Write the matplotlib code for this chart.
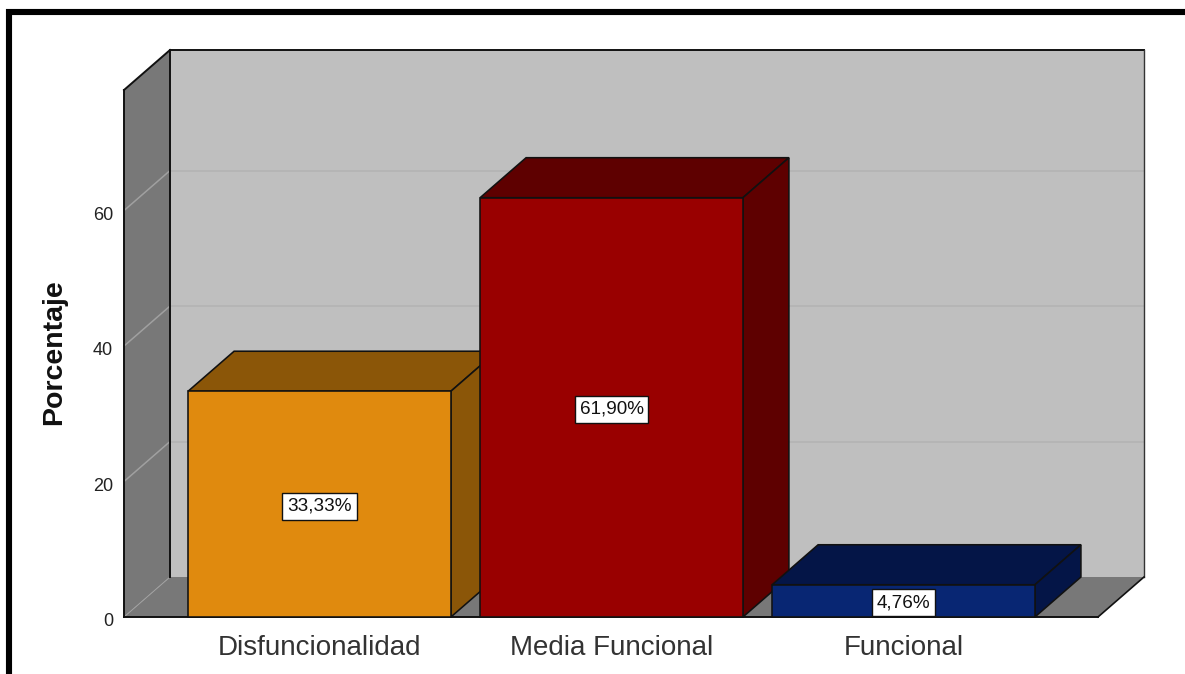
import matplotlib
matplotlib.use("Agg")
import matplotlib.pyplot as plt
from matplotlib.patches import Polygon, Rectangle
from matplotlib.transforms import Affine2D

categories = ["Disfuncionalidad", "Media Funcional", "Funcional"]
values = [33.33, 61.90, 4.76]
value_labels = ["33,33%", "61,90%", "4,76%"]
y_ticks = [0, 20, 40, 60]
front_colors = ["#E08A0E", "#990000", "#082673"]
dark_colors = ["#8B5608", "#5E0000", "#041547"]

W, H = 1185, 674
plt.rcParams["font.family"] = ["Liberation Sans", "DejaVu Sans"]
fig = plt.figure(figsize=(W / 100, H / 100), dpi=100, facecolor="white")

# plot front plane in pixels
L, R, B, T = 124, 1098, 617, 90
ax = fig.add_axes([L / W, 1 - B / H, (R - L) / W, (B - T) / H])
ax.patch.set_visible(False)
for s in ax.spines.values():
    s.set_visible(False)
ax.set_xlim(-0.6695, 2.666)
ax.set_ylim(0, 77.8)

DX, DY = 46, 40
depth = Affine2D().translate(DX, DY)
back = ax.transData + depth
x0, x1 = ax.get_xlim()
ytop = ax.get_ylim()[1]
EDGE = "#111111"
LW = 1.15


def to_back(x, y):
    """data point on the rear plane, in display coordinates"""
    return back.transform((x, y))


def to_front(x, y):
    return ax.transData.transform((x, y))


def poly(pts, fc, ec="none", lw=0.0, z=1):
    fig_patch = Polygon(pts, closed=True, facecolor=fc, edgecolor=ec, linewidth=lw,
                        transform=None, zorder=z, joinstyle="miter", clip_on=False)
    ax.add_patch(fig_patch)


def seg(p, q, color=EDGE, lw=LW, z=2):
    ax.plot([p[0], q[0]], [p[1], q[1]], color=color, lw=lw, transform=None,
            zorder=z, clip_on=False, solid_capstyle="projecting")


# back wall, side wall, floor
poly([to_back(x0, 0), to_back(x1, 0), to_back(x1, ytop), to_back(x0, ytop)], "#BFBFBF")
poly([to_front(x0, 0), to_back(x0, 0), to_back(x0, ytop), to_front(x0, ytop)], "#787878")
poly([to_front(x0, 0), to_front(x1, 0), to_back(x1, 0), to_back(x0, 0)], "#787878")

# gridlines on the walls
for t in y_ticks[1:]:
    seg(to_back(x0, t), to_back(x1, t), color="#B2B2B2", lw=1.1, z=1.5)
    seg(to_front(x0, t), to_back(x0, t), color="#A0A0A0", lw=1.1, z=1.5)
seg(to_front(x0, 0), to_back(x0, 0), color="#A0A0A0", lw=0.7, z=1.5)

# frame lines
seg(to_front(x0, 0), to_front(x0, ytop), lw=1.4)
seg(to_front(x0, ytop), to_back(x0, ytop), lw=1.4)
seg(to_back(x0, 0), to_back(x0, ytop), lw=1.4)
seg(to_back(x0, ytop), to_back(x1, ytop), lw=1.4)
seg(to_back(x1, 0), to_back(x1, ytop), color="#333333", lw=1.0)
seg(to_front(x0, 0), to_front(x1, 0), lw=1.4)
seg(to_front(x1, 0), to_back(x1, 0), lw=1.2)

# bars
xs = list(range(len(categories)))
bar_w = 0.9
for i, (xc, v) in enumerate(zip(xs, values)):
    a, b = xc - bar_w / 2, xc + bar_w / 2
    z = 3 + i
    poly([to_front(a, v), to_front(b, v), to_back(b, v), to_back(a, v)],
         dark_colors[i], EDGE, LW, z)
    poly([to_front(b, 0), to_back(b, 0), to_back(b, v), to_front(b, v)],
         dark_colors[i], EDGE, LW, z)
    ax.bar([xc], [v], width=bar_w, color=front_colors[i], edgecolor=EDGE,
           linewidth=LW, zorder=z + 0.1, clip_on=False)
    ax.text(xc, v / 2, value_labels[i], ha="center", va="center_baseline", fontsize=13.6,
            color="#111111", zorder=20,
            bbox=dict(boxstyle="square,pad=0.26", facecolor="white",
                      edgecolor="#111111", linewidth=1.0))

# axes text
ax.set_yticks(y_ticks)
ax.set_yticklabels([str(t) for t in y_ticks], fontsize=13, color="#222222")
ax.tick_params(axis="y", length=0, pad=8)
for lab in ax.get_yticklabels():
    lab.set_transform(lab.get_transform() + Affine2D().translate(0, -2.5))
ax.set_xticks(xs)
ax.set_xticklabels(categories, fontsize=20, color="#333333")
ax.tick_params(axis="x", length=0, pad=13)
ax.set_ylabel("Porcentaje", fontsize=20.5, fontweight="bold", color="#111111")
ax.yaxis.set_label_coords((54 - L) / (R - L), (B - 352) / (B - T))
ax.yaxis.label.set_verticalalignment("center")

# outer picture border, running off the right and bottom edges
fig.add_artist(Rectangle((9 / W, -0.05), 1.2, 1 - 12 / H + 0.05, transform=fig.transFigure,
                         facecolor="none", edgecolor="black", linewidth=4.4,
                         zorder=0, joinstyle="miter"))

fig.savefig("out.png", dpi=100, facecolor="white")
